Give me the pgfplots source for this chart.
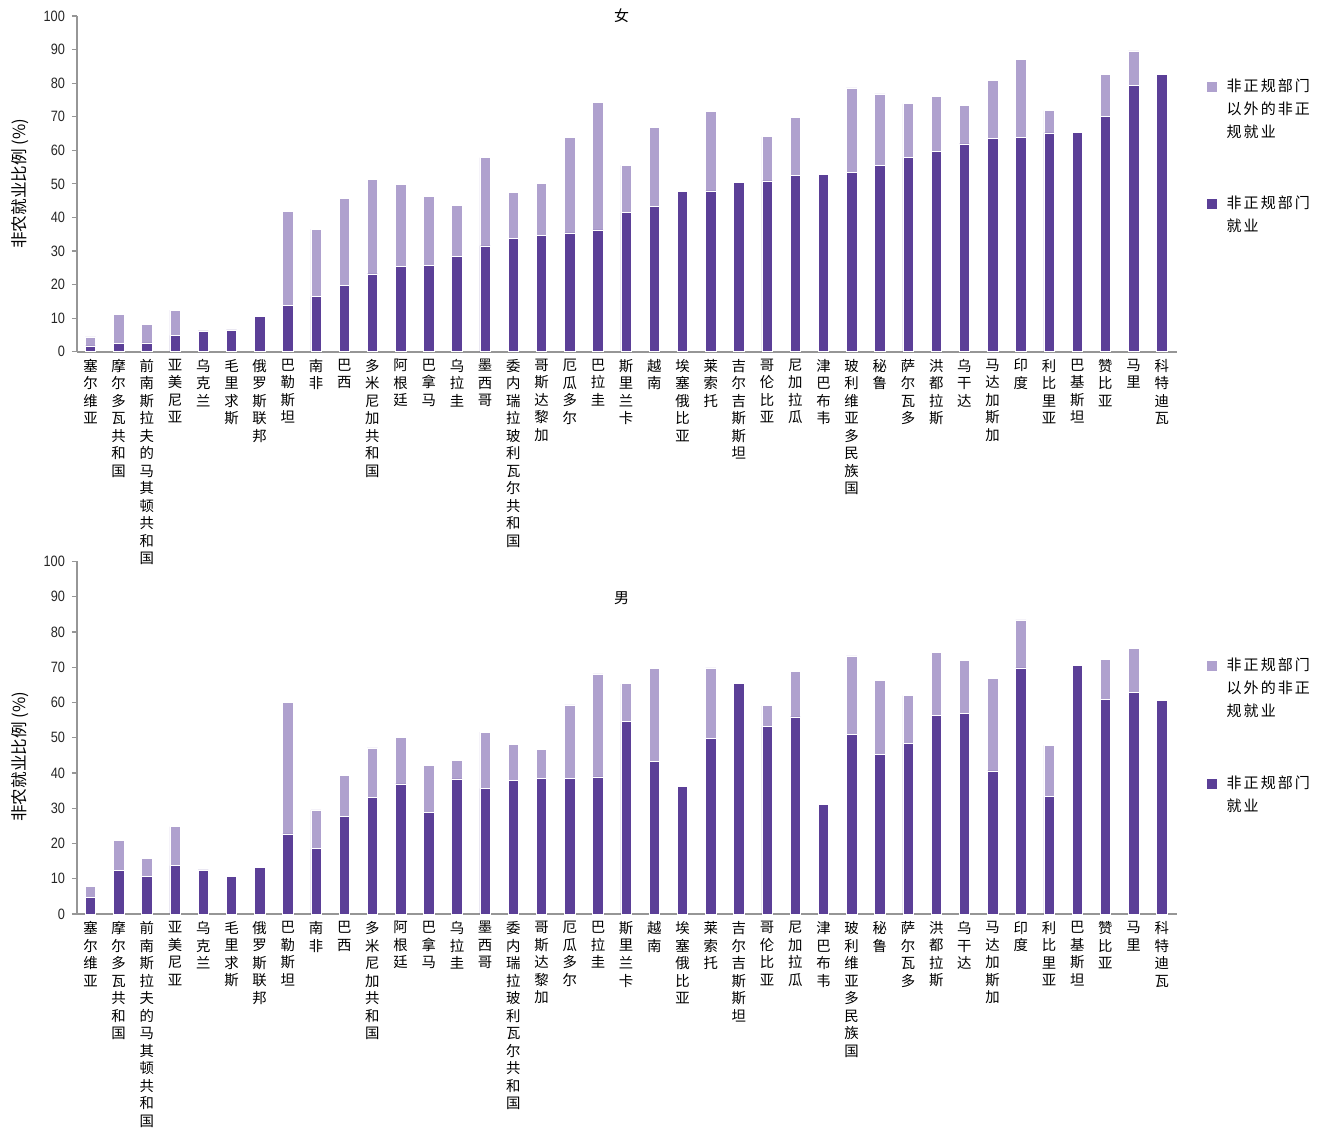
\documentclass[border=0pt]{standalone}
\usepackage{fontspec}
\usepackage{pgfplots}
\usepackage{pgfplotstable}
\pgfplotsset{compat=1.18}
\setmainfont[FakeStretch=0.85]{Liberation Sans}
\newfontfamily\cjk{Noto Sans CJK SC}
\newfontfamily\cjkls[LetterSpace=14]{Noto Sans CJK SC}
\definecolor{dark}{RGB}{91,63,151}
\definecolor{light}{RGB}{175,161,206}
\definecolor{axgray}{RGB}{150,150,150}

\pgfplotstableread{
x dark light
0 1.7 2.7
1 2.4 8.8
2 2.6 5.6
3 4.9 7.5
4 6.2 0
5 6.5 0
6 10.6 0
7 13.7 28.1
8 16.5 20.0
9 19.8 25.9
10 23.2 28.1
11 25.3 24.5
12 25.6 20.7
13 28.5 15.1
14 31.5 26.3
15 33.8 13.7
16 34.7 15.5
17 35.4 28.5
18 36.3 37.9
19 41.5 14.0
20 43.4 23.5
21 47.7 0
22 47.9 23.7
23 50.4 0
24 50.9 13.2
25 52.4 17.3
26 52.9 0
27 53.3 25.3
28 55.6 21.2
29 57.8 16.1
30 59.6 16.4
31 61.9 11.5
32 63.5 17.3
33 63.8 23.3
34 65.2 6.6
35 65.4 0
36 70.0 12.5
37 79.3 10.3
38 82.6 0
}\female

\pgfplotstableread{
x dark light
0 4.6 3.2
1 12.3 8.5
2 10.6 5.1
3 13.7 11.1
4 12.5 0
5 10.7 0
6 13.3 0
7 22.7 37.3
8 18.5 11.0
9 27.6 11.7
10 33.0 14.1
11 36.9 13.2
12 28.8 13.3
13 38.3 5.3
14 35.6 16.0
15 37.8 10.4
16 38.4 8.2
17 38.4 20.9
18 38.9 29.2
19 54.6 10.7
20 43.2 26.5
21 36.3 0
22 49.9 19.9
23 65.5 0
24 53.1 6.0
25 55.9 13.0
26 31.2 0
27 50.9 22.3
28 45.2 21.0
29 48.5 13.5
30 56.4 17.8
31 56.9 15.0
32 40.6 26.3
33 69.8 13.6
34 33.3 14.6
35 70.4 0
36 60.8 11.4
37 62.9 12.5
38 60.5 0
}\male

\pgfplotsset{
countrylabels/.style={xticklabels={
{塞\\尔\\维\\亚},
{摩\\尔\\多\\瓦\\共\\和\\国},
{前\\南\\斯\\拉\\夫\\的\\马\\其\\顿\\共\\和\\国},
{亚\\美\\尼\\亚},
{乌\\克\\兰},
{毛\\里\\求\\斯},
{俄\\罗\\斯\\联\\邦},
{巴\\勒\\斯\\坦},
{南\\非},
{巴\\西},
{多\\米\\尼\\加\\共\\和\\国},
{阿\\根\\廷},
{巴\\拿\\马},
{乌\\拉\\圭},
{墨\\西\\哥},
{委\\内\\瑞\\拉\\玻\\利\\瓦\\尔\\共\\和\\国},
{哥\\斯\\达\\黎\\加},
{厄\\瓜\\多\\尔},
{巴\\拉\\圭},
{斯\\里\\兰\\卡},
{越\\南},
{埃\\塞\\俄\\比\\亚},
{莱\\索\\托},
{吉\\尔\\吉\\斯\\斯\\坦},
{哥\\伦\\比\\亚},
{尼\\加\\拉\\瓜},
{津\\巴\\布\\韦},
{玻\\利\\维\\亚\\多\\民\\族\\国},
{秘\\鲁},
{萨\\尔\\瓦\\多},
{洪\\都\\拉\\斯},
{乌\\干\\达},
{马\\达\\加\\斯\\加},
{印\\度},
{利\\比\\里\\亚},
{巴\\基\\斯\\坦},
{赞\\比\\亚},
{马\\里},
{科\\特\\迪\\瓦}
}},
panel/.style={
  scale only axis, width=550pt,
  ybar stacked, bar width=5.2pt,
  xmin=-0.479, xmax=38.54, ymin=0, ymax=100,
  ytick={0,10,...,100}, xtick={0,...,38}, countrylabels,
  axis x line=bottom, axis y line=left,
  axis line style={-, draw=axgray},
  x axis line style={line width=1pt},
  y axis line style={line width=0.7pt},
  tick align=outside, major tick length=2.5pt,
  xtick style={draw=none},
  ytick style={draw=axgray, line width=0.6pt},
  /pgf/number format/assume math mode=true,
  yticklabel style={font=\fontsize{7.5}{9}\selectfont, text=black!85},
  xticklabel style={font=\cjk\fontsize{7.2}{8.75}\selectfont, align=center, anchor=north, inner sep=1pt},
  ylabel={非农就业比例 (\%)},
  ylabel style={font=\cjk\fontsize{8.3}{10}\selectfont, anchor=center},
  title style={font=\cjk\fontsize{7.5}{9}\selectfont, anchor=center, yshift=-6pt},
  reverse legend,
  legend style={draw=none, fill=none, font=\cjkls\fontsize{7.5}{11.5}\selectfont,
    row sep=47pt, column sep=3pt, cells={anchor=base west}, inner sep=0pt, anchor=north west},
}}

\begin{document}
\begin{tikzpicture}
\path[use as bounding box] (0,0) rectangle (662.5pt,-567pt);
% top panel
\begin{axis}[panel, at={(38.5pt,-175.85pt)}, anchor=south west, height=167.85pt,
  ylabel style={at={(axis description cs:-0.0518,0.5)}},
  title={女}, title style={at={(axis description cs:0.495,1.0)}},
  legend style={at={(axis description cs:1.0265,0.827)}},
  legend image code/.code={\fill[#1,draw=none] (0pt,-0.2pt) rectangle (5pt,4.8pt);}]
\addplot[fill=dark, draw=white, line width=0.3pt] table[x=x,y=dark]{\female};
\addplot[fill=light, draw=white, line width=0.3pt] table[x=x,y=light]{\female};
\addlegendentry{\parbox[t]{60pt}{\raggedright 非正规部门\\就业}}
\addlegendentry{\parbox[t]{60pt}{\raggedright 非正规部门\\以外的非正\\规就业}}
\end{axis}
% bottom panel
\begin{axis}[panel, at={(38.5pt,-457pt)}, anchor=south west, height=176.3pt,
  ylabel style={at={(axis description cs:-0.0518,0.446)}},
  title={男}, title style={at={(axis description cs:0.495,0.897)}},
  legend style={at={(axis description cs:1.0265,0.738)}},
  legend image code/.code={\fill[#1,draw=none] (0pt,-0.2pt) rectangle (5pt,4.8pt);}]
\addplot[fill=dark, draw=white, line width=0.3pt] table[x=x,y=dark]{\male};
\addplot[fill=light, draw=white, line width=0.3pt] table[x=x,y=light]{\male};
\addlegendentry{\parbox[t]{60pt}{\raggedright 非正规部门\\就业}}
\addlegendentry{\parbox[t]{60pt}{\raggedright 非正规部门\\以外的非正\\规就业}}
\end{axis}
\end{tikzpicture}
\end{document}
